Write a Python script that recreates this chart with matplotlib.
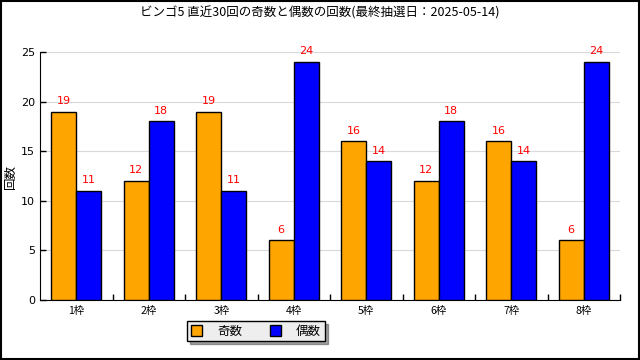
import numpy as np
import matplotlib.pyplot as plt
from matplotlib.ticker import FixedLocator

plt.rcParams['font.family'] = ['Noto Sans CJK JP', 'DejaVu Sans']

# Data
categories = ['1枠', '2枠', '3枠', '4枠', '5枠', '6枠', '7枠', '8枠']
odd_counts = [19, 12, 19, 6, 16, 12, 16, 6]
even_counts = [11, 18, 11, 24, 14, 18, 14, 24]
series_names = ['奇数', '偶数']
title = 'ビンゴ5 直近30回の奇数と偶数の回数(最終抽選日：2025-05-14)'

fig = plt.figure(figsize=(6.4, 3.6), dpi=100)
ax = fig.add_axes([0.0625, 0.1667, 0.90625, 0.6889])

x = np.arange(len(categories))
w = 0.345
b1 = ax.bar(x - w / 2, odd_counts, w, color='#ffa500', edgecolor='black', linewidth=1, label=series_names[0], zorder=3)
b2 = ax.bar(x + w / 2, even_counts, w, color='#0000ff', edgecolor='black', linewidth=1, label=series_names[1], zorder=3)

for bars in (b1, b2):
    for r in bars:
        ax.annotate(f'{int(r.get_height())}', (r.get_x() + r.get_width() / 2, r.get_height()),
                    xytext=(0, 4), textcoords='offset points', ha='center', va='bottom',
                    color='red', fontsize=8, family='DejaVu Sans')

ax.set_xlim(-0.5, len(categories) - 0.5)
ax.set_ylim(0, 25)
ax.set_yticks(range(0, 26, 5))
ax.set_xticks(x)
ax.set_xticklabels(categories, fontsize=7.5)
ax.tick_params(axis='x', length=0, pad=4)
ax.xaxis.set_minor_locator(FixedLocator(np.arange(0.5, len(categories), 1)))
ax.tick_params(axis='x', which='minor', direction='in', length=4, width=1)
ax.tick_params(axis='y', direction='in', length=4, width=1, labelsize=8)
for lab in ax.get_yticklabels():
    lab.set_family('DejaVu Sans')
ax.yaxis.grid(True, color='#d9d9d9', linewidth=0.8, zorder=0)
ax.spines['top'].set_visible(False)
ax.spines['right'].set_visible(False)

fig.text(0.5, 0.965, title, ha='center', va='center', fontsize=9)
fig.text(0.017, 0.51, '回数', rotation=90, ha='center', va='center', fontsize=9)

fig.legend(handles=[b1, b2], loc='center', bbox_to_anchor=(0.4, 0.08), ncol=2,
           fancybox=False, shadow=True, edgecolor='black', facecolor='#eeeeee',
           framealpha=1, fontsize=9, handlelength=0.9, handleheight=0.9,
           handletextpad=1.2, columnspacing=2.2, borderpad=0.3)

# border around the figure
fig.patches.append(plt.Rectangle((0.001, 0.002), 0.997, 0.995, transform=fig.transFigure,
                                 fill=False, edgecolor='black', linewidth=1.5))

fig.savefig('out.png', dpi=100)
